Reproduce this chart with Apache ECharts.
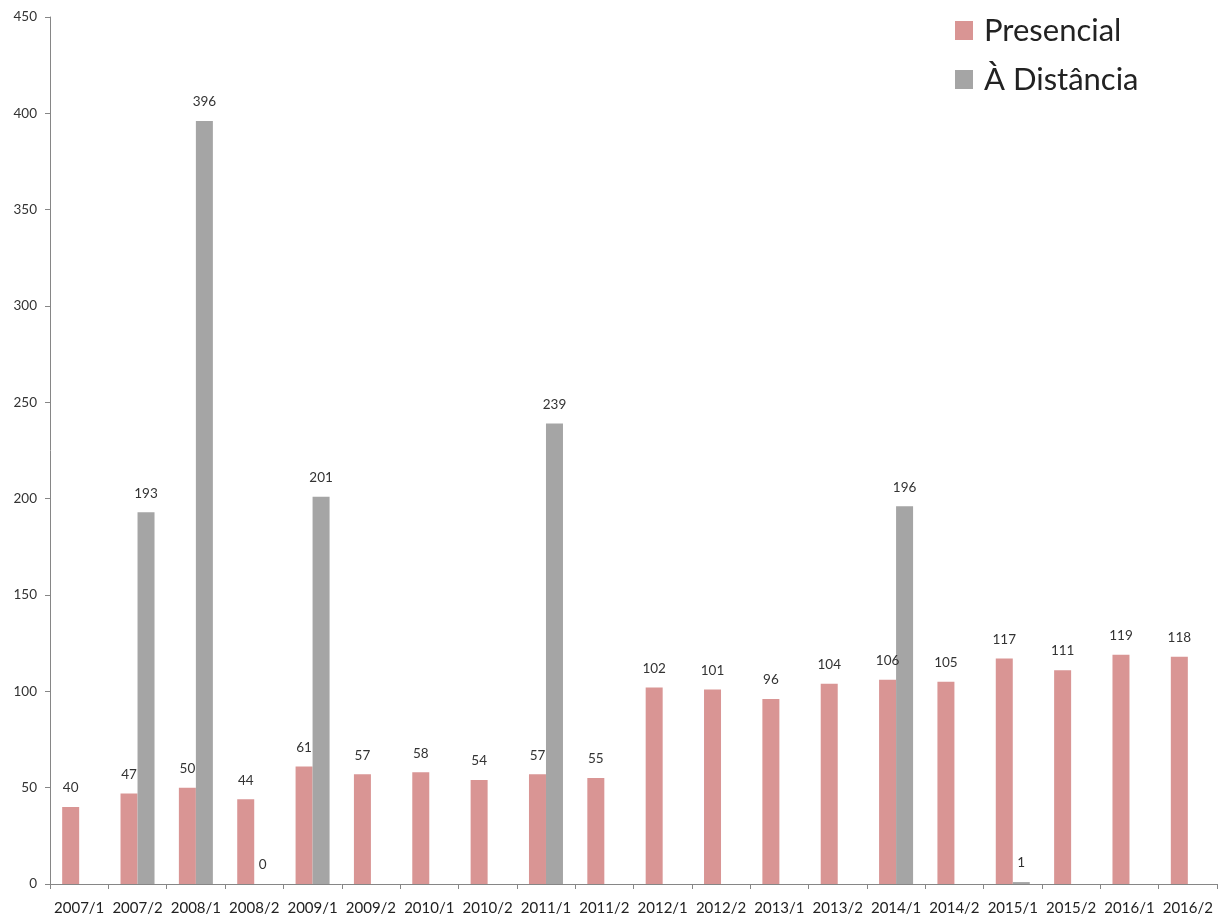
<!DOCTYPE html>
<html>
<head>
<meta charset="utf-8">
<script src="https://cdn.jsdelivr.net/npm/echarts@6/dist/echarts.min.js"></script>
<style>
  html, body { margin: 0; padding: 0; background: #fff; }
  #chart { width: 1220px; height: 921px; }
</style>
</head>
<body>
<div id="chart"></div>
<script>
const semesters = ['2007/1','2007/2','2008/1','2008/2','2009/1','2009/2','2010/1','2010/2','2011/1','2011/2',
                   '2012/1','2012/2','2013/1','2013/2','2014/1','2014/2','2015/1','2015/2','2016/1','2016/2'];
const presencial = [40, 47, 50, 44, 61, 57, 58, 54, 57, 55, 102, 101, 96, 104, 106, 105, 117, 111, 119, 118];
const distancia  = [null, 193, 396, 0, 201, null, null, null, 239, null, null, null, null, null, 196, null, 1, null, null, null];

const FONT = 'Lato, "Open Sans", sans-serif';
const chart = echarts.init(document.getElementById('chart'));

const labelStyle = {
  show: true,
  position: 'top',
  distance: 12,
  fontFamily: FONT,
  fontSize: 13.5,
  color: '#333',
  formatter: p => (p.value === null || p.value === undefined) ? '' : String(p.value)
};

chart.setOption({
  animation: false,
  backgroundColor: '#fff',
  grid: { left: 50, right: 3, top: 17, bottom: 37, containLabel: false },
  legend: {
    orient: 'vertical',
    left: 955,
    top: 15,
    itemWidth: 18,
    itemHeight: 19,
    itemGap: 18,
    icon: 'rect',
    padding: 0,
    textStyle: { fontFamily: FONT, fontSize: 31, color: '#222', padding: [0, 0, 0, 6] },
    data: ['Presencial', 'À Distância']
  },
  xAxis: {
    type: 'category',
    data: semesters,
    axisLine: { lineStyle: { color: '#868686', width: 1 } },
    axisTick: { show: true, alignWithLabel: false, length: 5, lineStyle: { color: '#868686' } },
    axisLabel: { fontFamily: FONT, fontSize: 15, color: '#222', margin: 17, interval: 0 }
  },
  yAxis: {
    type: 'value',
    min: 0,
    max: 450,
    interval: 50,
    splitLine: { show: false },
    axisLine: { show: true, lineStyle: { color: '#868686', width: 1 } },
    axisTick: { show: true, length: 5, lineStyle: { color: '#868686' } },
    axisLabel: { fontFamily: FONT, fontSize: 13.5, color: '#333', margin: 13 }
  },
  series: [
    {
      name: 'Presencial',
      type: 'bar',
      data: presencial,
      barWidth: 17,
      barGap: '0%',
      itemStyle: { color: '#D99594' },
      label: labelStyle
    },
    {
      name: 'À Distância',
      type: 'bar',
      data: distancia,
      barWidth: 17,
      barGap: '0%',
      itemStyle: { color: '#A5A5A5' },
      label: labelStyle
    }
  ]
});
</script>
</body>
</html>
